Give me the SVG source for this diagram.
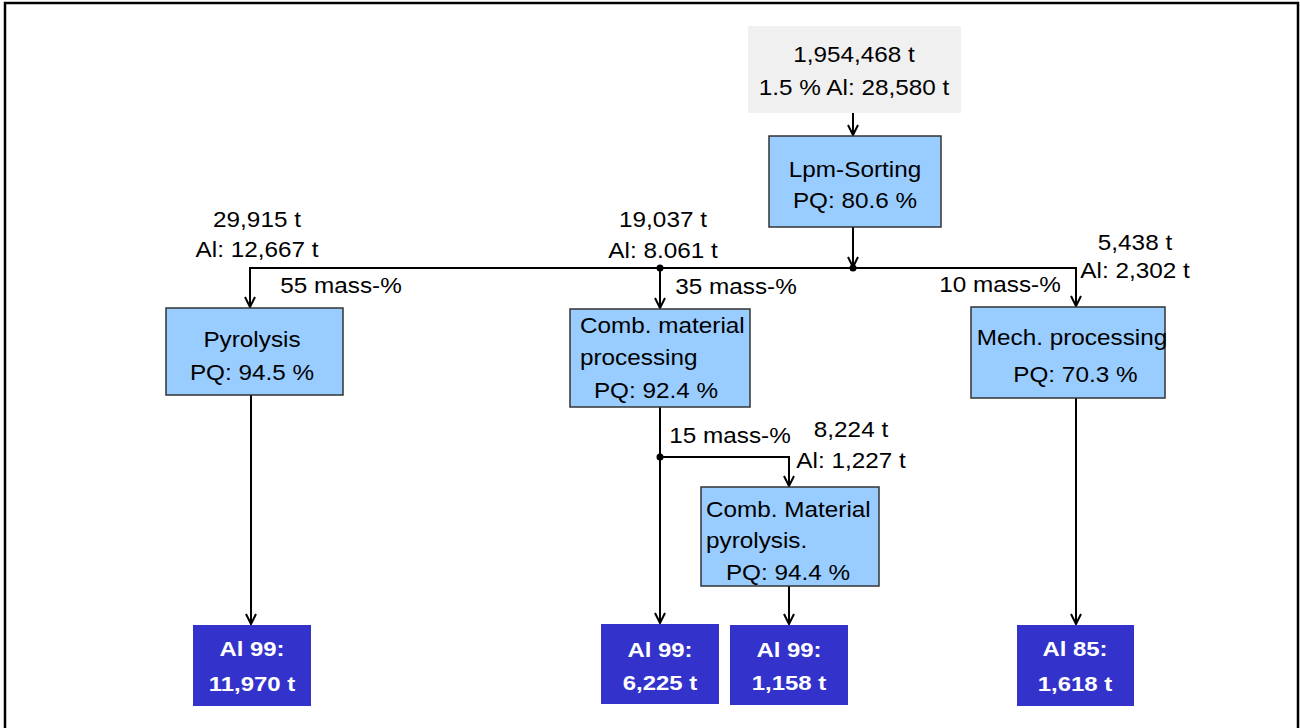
<svg xmlns="http://www.w3.org/2000/svg" width="1300" height="728" viewBox="0 0 1300 728">
<defs>
<style>
.t{font-family:"Liberation Sans",Arial,sans-serif;font-size:21.5px;fill:#000;text-anchor:middle}
.s{text-anchor:start}
.b{font-family:"Liberation Sans",Arial,sans-serif;font-size:21px;font-weight:bold;fill:#fff;text-anchor:middle}
.proc{fill:#99CCFF;stroke:#333;stroke-width:1.5}
.res{fill:#3333CC}
.src{fill:#F0F0F0}
.c{fill:none;stroke:#000;stroke-width:2}
.a{marker-end:url(#ah)}
</style>
<marker id="ah" viewBox="-12 -7 14 14" markerWidth="14" markerHeight="14" refX="0" refY="0" orient="auto" markerUnits="userSpaceOnUse">
<path d="M-10,-5 L0,0 L-10,5" fill="none" stroke="#000" stroke-width="2"/>
</marker>
</defs>
<rect width="1300" height="728" fill="#fff"/>
<path d="M5,728 L5,3 L1298,3 L1298,728" fill="none" stroke="#000" stroke-width="2.5"/>

<g id="connectors">
<line class="c a" x1="853" y1="113" x2="853" y2="135"/>
<line class="c a" x1="853" y1="227" x2="853" y2="267"/>
<polyline class="c a" points="660,268 250,268 250,307"/>
<polyline class="c a" points="853,268 1076,268 1076,306"/>
<line class="c" x1="660" y1="268" x2="853" y2="268"/>
<line class="c a" x1="660" y1="268" x2="660" y2="308"/>
<circle cx="853" cy="268" r="3.5"/>
<circle cx="660" cy="268" r="3.5"/>
<line class="c a" x1="251" y1="395" x2="251" y2="624"/>
<line class="c a" x1="660" y1="407" x2="660" y2="623"/>
<polyline class="c a" points="660,457 789,457 789,486"/>
<circle cx="660" cy="457" r="3.5"/>
<line class="c a" x1="789" y1="586" x2="789" y2="624"/>
<line class="c a" x1="1076" y1="398" x2="1076" y2="624"/>
</g>

<g id="labels">
<text class="t" transform="translate(257,0) scale(1.13,1)"><tspan x="0" y="227">29,915 t</tspan><tspan x="0" y="257">Al: 12,667 t</tspan></text>
<text class="t" transform="translate(341,293) scale(1.13,1)">55 mass-%</text>
<text class="t" transform="translate(663,0) scale(1.13,1)"><tspan x="0" y="227">19,037 t</tspan><tspan x="0" y="258">Al: 8.061 t</tspan></text>
<text class="t" transform="translate(736,294) scale(1.13,1)">35 mass-%</text>
<text class="t" transform="translate(1135,0) scale(1.13,1)"><tspan x="0" y="250">5,438 t</tspan><tspan x="0" y="278">Al: 2,302 t</tspan></text>
<text class="t" transform="translate(1000,292) scale(1.13,1)">10 mass-%</text>
<text class="t" transform="translate(730,443) scale(1.13,1)">15 mass-%</text>
<text class="t" transform="translate(851,0) scale(1.13,1)"><tspan x="0" y="437">8,224 t</tspan><tspan x="0" y="468">Al: 1,227 t</tspan></text>
</g>

<g id="input">
<rect class="src" x="748" y="26" width="213" height="87"/>
<text class="t" transform="translate(854,0) scale(1.13,1)"><tspan x="0" y="62">1,954,468 t</tspan><tspan x="0" y="95">1.5 % Al: 28,580 t</tspan></text>
</g>

<g id="lpm-sorting">
<rect class="proc" x="769" y="136" width="172" height="91"/>
<text class="t" transform="translate(855,0) scale(1.13,1)"><tspan x="0" y="177">Lpm-Sorting</tspan><tspan x="0" y="208">PQ: 80.6 %</tspan></text>
</g>

<g id="pyrolysis">
<rect class="proc" x="166" y="308" width="177" height="87"/>
<text class="t" transform="translate(252,0) scale(1.13,1)"><tspan x="0" y="347">Pyrolysis</tspan><tspan x="0" y="380">PQ: 94.5 %</tspan></text>
</g>

<g id="comb-material-processing">
<rect class="proc" x="570" y="309" width="180" height="98"/>
<text class="t s" transform="translate(580,0) scale(1.13,1)"><tspan x="0" y="333">Comb. material</tspan><tspan x="0" y="365">processing</tspan></text>
<text class="t" transform="translate(656,398) scale(1.13,1)">PQ: 92.4 %</text>
</g>

<g id="mech-processing">
<rect class="proc" x="971" y="307" width="194" height="91"/>
<text class="t" transform="translate(1072,0) scale(1.13,1)"><tspan x="0" y="345">Mech. processing</tspan><tspan x="3" y="382">PQ: 70.3 %</tspan></text>
</g>

<g id="comb-material-pyrolysis">
<rect class="proc" x="701" y="487" width="178" height="99"/>
<text class="t s" transform="translate(706,0) scale(1.13,1)"><tspan x="0" y="517">Comb. Material</tspan><tspan x="0" y="548">pyrolysis.</tspan></text>
<text class="t" transform="translate(788,580) scale(1.13,1)">PQ: 94.4 %</text>
</g>

<g id="result-al99-11970">
<rect class="res" x="193" y="625" width="118" height="81"/>
<text class="b" transform="translate(252,0) scale(1.14,1)"><tspan x="0" y="656">Al 99:</tspan><tspan x="0" y="691">11,970 t</tspan></text>
</g>

<g id="result-al99-6225">
<rect class="res" x="601" y="624" width="118" height="80"/>
<text class="b" transform="translate(660,0) scale(1.14,1)"><tspan x="0" y="657">Al 99:</tspan><tspan x="0" y="690">6,225 t</tspan></text>
</g>

<g id="result-al99-1158">
<rect class="res" x="730" y="625" width="118" height="80"/>
<text class="b" transform="translate(789,0) scale(1.14,1)"><tspan x="0" y="657">Al 99:</tspan><tspan x="0" y="690">1,158 t</tspan></text>
</g>

<g id="result-al85-1618">
<rect class="res" x="1017" y="625" width="117" height="81"/>
<text class="b" transform="translate(1075,0) scale(1.14,1)"><tspan x="0" y="656">Al 85:</tspan><tspan x="0" y="691">1,618 t</tspan></text>
</g>
</svg>
